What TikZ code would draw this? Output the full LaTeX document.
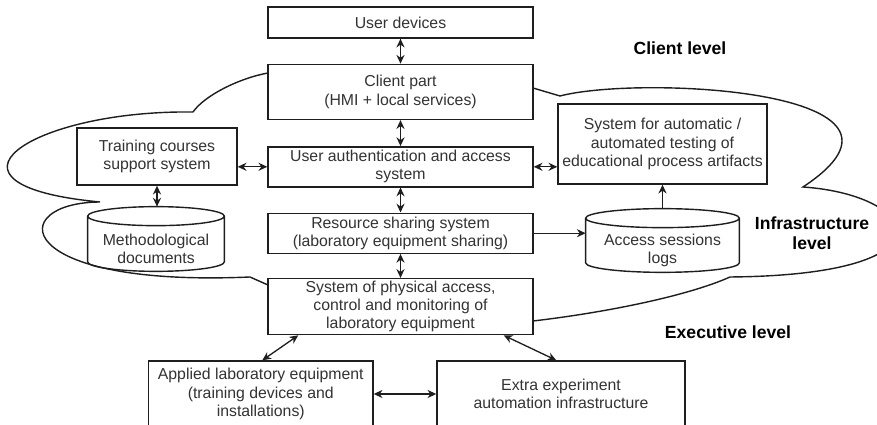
\documentclass[tikz,border=0pt]{standalone}
\usepackage{fontspec}
\setmainfont{Liberation Sans}
\usetikzlibrary{positioning,arrows.meta,calc,backgrounds}
\definecolor{inkC}{RGB}{30,30,30}
\definecolor{txtC}{RGB}{51,51,51}

\begin{document}
\begin{tikzpicture}[
  font=\fontsize{9}{10.3}\selectfont,
  box/.style={draw=inkC, fill=white, line width=0.8pt, inner xsep=1pt, inner ysep=0pt,
              align=center, text=txtC, minimum width=5.3cm},
  cyl/.style={inner sep=0pt, align=center, text=txtC},
  lvl/.style={font=\fontsize{10}{11.5}\selectfont\bfseries, align=center},
  biarr/.style={{Stealth[length=5pt,width=4.6pt]}-{Stealth[length=5pt,width=4.6pt]}, line width=0.75pt, color=inkC},
  arr/.style={-{Stealth[length=5pt,width=4.6pt]}, line width=0.75pt, color=inkC},
]
\useasboundingbox (0,0) rectangle (17.54,-8.5);

% ---------- Infrastructure cloud ----------
\draw[line width=0.8pt, color=inkC]
  (5.36,-1.46) .. controls (4.80,-1.56) and (4.10,-1.90) .. (3.86,-2.24)
  .. controls (0.60,-2.20) and (-1.60,-3.70) .. (2.00,-4.04)
  .. controls (0.10,-4.05) and (0.20,-5.75) .. (5.00,-5.54)
  -- (5.36,-5.70);
\draw[line width=0.8pt, color=inkC]
  (10.66,-1.76) -- (11.20,-1.92)
  .. controls (12.80,-1.50) and (19.00,-1.80) .. (16.06,-3.74)
  .. controls (18.40,-3.90) and (19.20,-5.50) .. (14.60,-5.54)
  .. controls (13.80,-5.90) and (12.20,-6.24) .. (10.66,-6.42);

% ---------- central column ----------
\node[box, minimum height=0.62cm] (devices) at (8.01,-0.45) {User devices};
\node[box, below=0.5cm of devices, minimum height=1.1cm] (client)
  {Client part\\(HMI + local services)};
\node[box, below=0.52cm of client, minimum height=0.8cm] (auth)
  {User authentication and access\\system};
\node[box, below=0.5cm of auth, minimum height=0.8cm] (share)
  {Resource sharing system\\(laboratory equipment sharing)};
\node[box, below=0.48cm of share, minimum height=1.12cm] (phys)
  {System of physical access,\\control and monitoring of\\laboratory equipment};

% ---------- side systems ----------
\node[box, minimum width=3.2cm, minimum height=1.14cm] (training) at (3.14,-3.13)
  {Training courses\\support system};
\node[cyl, minimum width=2.72cm, minimum height=0.9cm] (method) at (3.12,-4.97)
  {Methodological\\documents};
\node[box, minimum width=4.18cm, minimum height=1.6cm] (testing) at (13.25,-2.88)
  {System for automatic /\\automated testing of\\educational process artifacts};
\node[cyl, minimum width=3.06cm, minimum height=0.88cm] (logs) at (13.25,-5.0)
  {Access sessions\\logs};

% cylinder outlines (top cap sits above the text body)
\begin{scope}[on background layer]
\foreach \c in {method, logs}{
  \draw[line width=0.8pt, draw=inkC, fill=white]
    let \p1=(\c.north west), \p2=(\c.south east), \n1={(\x2-\x1)/2} in
    (\x1,\y1+0.19cm) -- (\x1,\y2+0.19cm)
    arc[start angle=180, end angle=360, x radius=\n1, y radius=0.19cm]
    -- (\x2,\y1+0.19cm)
    arc[start angle=0, end angle=180, x radius=\n1, y radius=0.19cm]
    arc[start angle=180, end angle=360, x radius=\n1, y radius=0.19cm];
}
\end{scope}
\coordinate (methodtop) at ([yshift=0.38cm]method.north);
\coordinate (logstop) at ([yshift=0.38cm]logs.north);

% ---------- equipment ----------
\node[box, minimum width=4.49cm, minimum height=1.32cm] (applied) at (5.215,-7.88)
  {Applied laboratory equipment\\(training devices and\\installations)};
\node[box, minimum width=4.96cm, minimum height=1.32cm] (extra) at (11.22,-7.88)
  {Extra experiment\\automation infrastructure};

% ---------- level labels ----------
\node[lvl] (lclient) at (13.6,-0.96) {Client level};
\node[lvl] (linfra) at (16.24,-4.66) {Infrastructure\\level};
\node[lvl] (lexec) at (14.56,-6.64) {Executive level};

% ---------- connectors ----------
\draw[biarr] (devices) -- (client);
\draw[biarr] (client) -- (auth);
\draw[biarr] (auth) -- (share);
\draw[biarr] (share) -- (phys);
\draw[biarr] (auth.west) -- (training.east |- auth.west);
\draw[biarr] (auth.east) -- (testing.west |- auth.east);
\draw[biarr] (training.south) -- (training.south |- methodtop);
\draw[arr] (share.east) -- (logs.west |- share.east);
\draw[arr] (logstop) -- (logstop |- testing.south);
\draw[biarr] ([xshift=0.62cm]phys.south west) -- ([xshift=2.29cm]applied.north west);
\draw[biarr] ([xshift=-0.6cm]phys.south east) -- ([xshift=2.4cm]extra.north west);
\draw[biarr] (applied.east) -- (extra.west);

\end{tikzpicture}
\end{document}
